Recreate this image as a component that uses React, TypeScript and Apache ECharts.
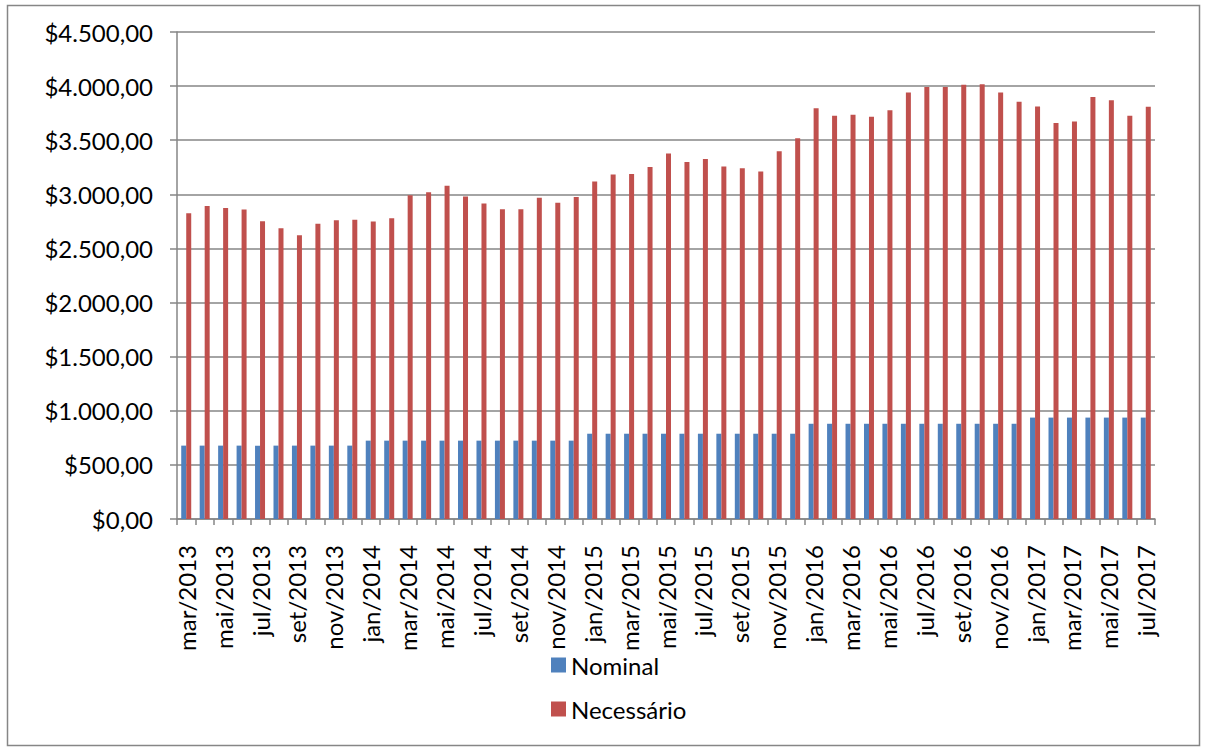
import React, { useEffect, useRef } from "react";
import * as echarts from "echarts";

// Months from mar/2013 to jul/2017
const months: string[] = [
  "mar/2013", "abr/2013", "mai/2013", "jun/2013", "jul/2013", "ago/2013", "set/2013", "out/2013", "nov/2013", "dez/2013",
  "jan/2014", "fev/2014", "mar/2014", "abr/2014", "mai/2014", "jun/2014", "jul/2014", "ago/2014", "set/2014", "out/2014", "nov/2014", "dez/2014",
  "jan/2015", "fev/2015", "mar/2015", "abr/2015", "mai/2015", "jun/2015", "jul/2015", "ago/2015", "set/2015", "out/2015", "nov/2015", "dez/2015",
  "jan/2016", "fev/2016", "mar/2016", "abr/2016", "mai/2016", "jun/2016", "jul/2016", "ago/2016", "set/2016", "out/2016", "nov/2016", "dez/2016",
  "jan/2017", "fev/2017", "mar/2017", "abr/2017", "mai/2017", "jun/2017", "jul/2017",
];

// Salário mínimo nominal
const nominal: number[] = [
  678, 678, 678, 678, 678, 678, 678, 678, 678, 678,
  724, 724, 724, 724, 724, 724, 724, 724, 724, 724, 724, 724,
  788, 788, 788, 788, 788, 788, 788, 788, 788, 788, 788, 788,
  880, 880, 880, 880, 880, 880, 880, 880, 880, 880, 880, 880,
  937, 937, 937, 937, 937, 937, 937,
];

// Salário mínimo necessário
const necessario: number[] = [
  2824.92, 2892.47, 2873.56, 2860.21, 2750.83, 2685.47, 2621.7, 2729.24, 2761.58, 2765.44,
  2748.22, 2778.63, 2991.0, 3019.07, 3079.31, 2979.25, 2915.07, 2861.55, 2862.73, 2967.65, 2923.22, 2975.55,
  3118.62, 3182.81, 3186.92, 3251.61, 3377.62, 3299.66, 3325.37, 3258.16, 3240.27, 3210.28, 3398.67, 3518.51,
  3795.24, 3725.01, 3736.26, 3716.77, 3777.93, 3940.41, 3992.75, 3991.4, 4013.08, 4016.27, 3940.24, 3856.23,
  3811.29, 3658.72, 3673.09, 3899.66, 3869.92, 3727.19, 3810.36,
];

const FONT = "Lato, 'Open Sans', sans-serif";
const GRAY = "#868686";

function formatBRL(v: number): string {
  const [int, dec] = v.toFixed(2).split(".");
  return "$" + int.replace(/\B(?=(\d{3})+(?!\d))/g, ".") + "," + dec;
}

export default function App() {
  const ref = useRef<HTMLDivElement>(null);

  useEffect(() => {
    document.body.style.margin = "0";
    const chart = echarts.init(ref.current!, null, { renderer: "svg" });
    chart.setOption({
      animation: false,
      backgroundColor: "#ffffff",
      graphic: [
        {
          type: "rect",
          shape: { x: 7.5, y: 5.5, width: 1192, height: 740 },
          style: { fill: "none", stroke: GRAY, lineWidth: 1.5 },
          silent: true,
        },
      ],
      grid: { left: 177, top: 32, right: 52, bottom: 234 },
      legend: {
        orient: "vertical",
        left: 546,
        top: 648,
        itemWidth: 15,
        itemHeight: 15,
        itemGap: 20,
        icon: "rect",
        textStyle: { fontFamily: FONT, fontSize: 24, color: "#000" },
        data: ["Nominal", "Necessário"],
      },
      xAxis: {
        type: "category",
        data: months,
        axisLine: { lineStyle: { color: GRAY, width: 1.5 } },
        axisTick: { show: true, interval: 0, length: 6, lineStyle: { color: GRAY, width: 1.5 } },
        axisLabel: {
          interval: 1,
          rotate: 90,
          margin: 26,
          fontFamily: FONT,
          fontSize: 24,
          color: "#000",
        },
      },
      yAxis: {
        type: "value",
        min: 0,
        max: 4500,
        interval: 500,
        axisLine: { show: true, lineStyle: { color: GRAY, width: 1.5 } },
        axisTick: { show: true, length: 7, lineStyle: { color: GRAY, width: 1.5 } },
        axisLabel: {
          margin: 24,
          fontFamily: FONT,
          fontSize: 24,
          color: "#000",
          formatter: (v: number) => formatBRL(v),
        },
        splitLine: { lineStyle: { color: GRAY, width: 1.5 } },
      },
      series: [
        {
          name: "Nominal",
          type: "bar",
          data: nominal,
          barWidth: 5,
          barGap: "0%",
          itemStyle: { color: "#4F81BD" },
        },
        {
          name: "Necessário",
          type: "bar",
          data: necessario,
          barWidth: 5,
          barGap: "0%",
          itemStyle: { color: "#C0504D" },
        },
      ],
    });
    return () => chart.dispose();
  }, []);

  return <div ref={ref} style={{ width: 1207, height: 753 }} />;
}
